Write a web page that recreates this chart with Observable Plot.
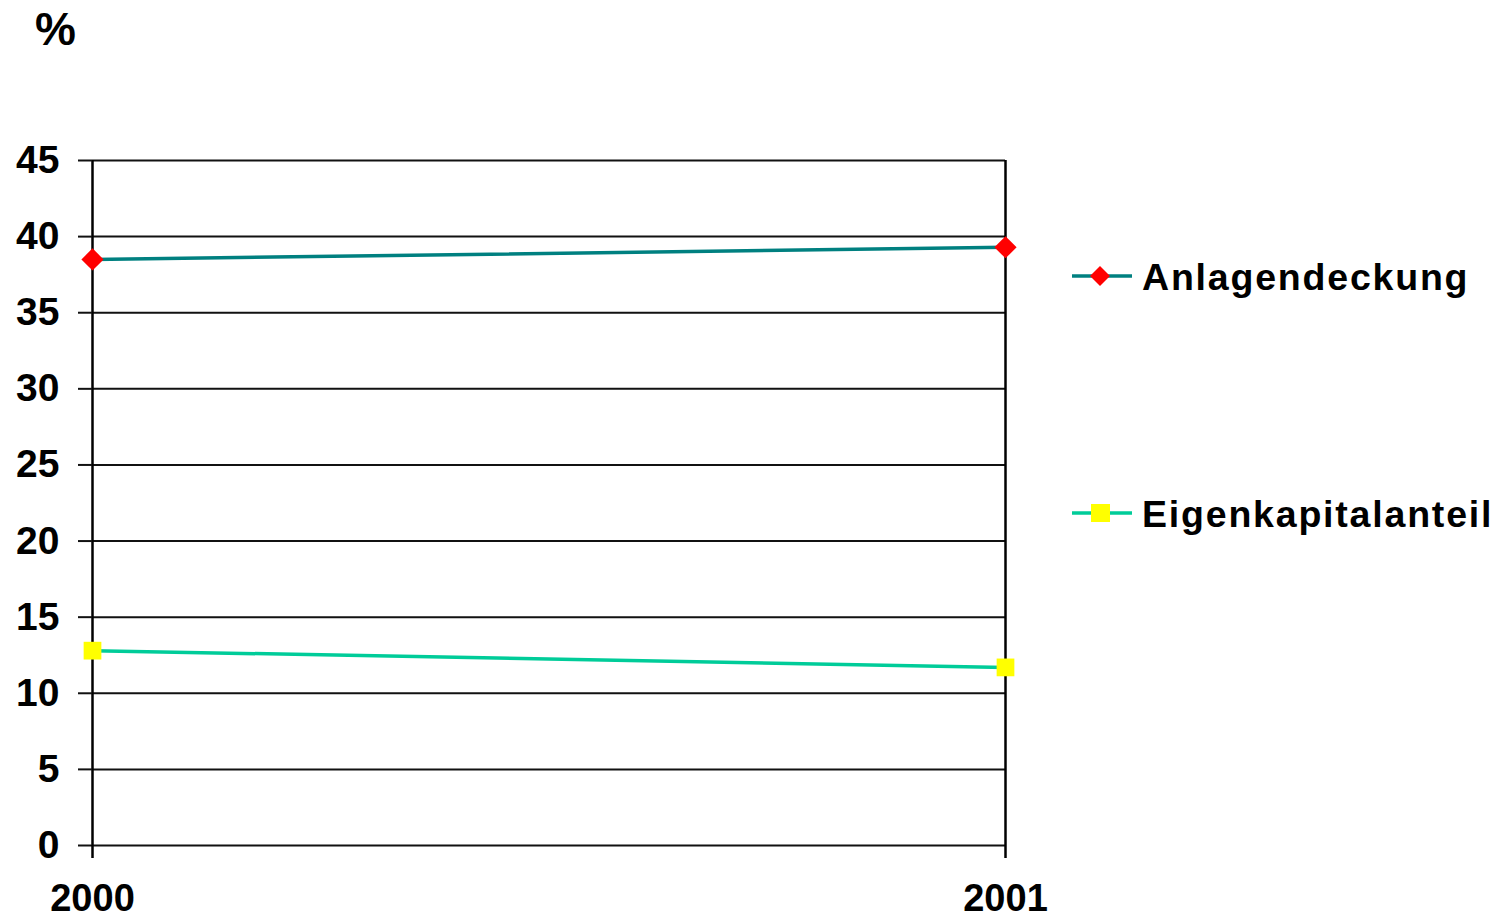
<!DOCTYPE html>
<html><head><meta charset="utf-8">
<script src="https://cdn.jsdelivr.net/npm/d3@7"></script>
<script src="https://cdn.jsdelivr.net/npm/@observablehq/plot@0.6"></script>
<style>
body{margin:0;background:#fff}
#wrap{position:relative;width:1503px;height:921px;font-family:"Liberation Sans",Arial,sans-serif;font-weight:bold}
#overlay{position:absolute;left:0;top:0;pointer-events:none}
</style></head><body>
<div id="wrap"><div id="chart"></div><svg id="overlay" width="1503" height="921"></svg></div>
<script>
const years = [2000, 2001];
const seriesNames = ["Anlagendeckung", "Eigenkapitalanteil"];
const anlagendeckung = [38.5, 39.3];
const eigenkapitalanteil = [12.8, 11.7];
const yTicks = [0, 5, 10, 15, 20, 25, 30, 35, 40, 45];
const unitLabel = "%";
const seriesColors = ["#008080", "#00CC99"];
const markerFills = ["#FF0000", "#FFFF00"];
const markerSymbols = ["diamond2", "square"];

const data = [];
years.forEach((y, i) => {
  data.push({year: y, series: seriesNames[0], value: anlagendeckung[i]});
  data.push({year: y, series: seriesNames[1], value: eigenkapitalanteil[i]});
});

const font = '"Liberation Sans", Arial, sans-serif';
const chart = Plot.plot({
  width: 1503, height: 921,
  marginLeft: 92, marginRight: 498, marginTop: 160, marginBottom: 76,
  style: {fontFamily: font, fontSize: "38px", fontWeight: "bold", color: "#000", background: "transparent", overflow: "visible"},
  x: {type: "linear", domain: [2000, 2001]},
  y: {domain: [0, 45]},
  color: {domain: seriesNames, range: seriesColors},
  symbol: {domain: seriesNames, range: markerSymbols},
  marks: [
    Plot.ruleY(yTicks, {y: d => d, x1: years[0], x2: years[1], stroke: "#111", strokeWidth: 2}),
    Plot.ruleX(years, {x: d => d, y1: 0, y2: 45, stroke: "#000", strokeWidth: 2.5}),
    Plot.axisY({ticks: yTicks, tickSize: 14, tickPadding: 19, strokeWidth: 2, stroke: "#111", fontWeight: "bold", fontSize: 39, fill: "#000", label: null, letterSpacing: 2}),
    Plot.axisX({ticks: years, tickFormat: d => String(d), tickSize: 13, tickPadding: 26, strokeWidth: 2.5, stroke: "#000", fontWeight: "bold", fontSize: 38, fill: "#000", label: null, letterSpacing: 2.5}),
    Plot.line(data, {x: "year", y: "value", stroke: "series", strokeWidth: 3.5}),
    Plot.dot(data, {x: "year", y: "value", symbol: "series", r: 10, stroke: null,
      fill: d => markerFills[seriesNames.indexOf(d.series)]})
  ]
});
document.getElementById("chart").appendChild(chart);

// overlay: unit label and legend
const ov = d3.select("#overlay");
ov.append("text").attr("x", 35).attr("y", 45).attr("font-family", font).attr("font-weight", "bold")
  .attr("font-size", 46).text(unitLabel);
const legendY = [276, 513];
seriesNames.forEach((name, i) => {
  const g = ov.append("g").attr("transform", `translate(0,${legendY[i]})`);
  g.append("line").attr("x1", 1072).attr("x2", 1132).attr("y1", 0).attr("y2", 0)
    .attr("stroke", seriesColors[i]).attr("stroke-width", 3.5);
  if (markerSymbols[i] === "diamond2") {
    g.append("path").attr("d", "M1100,-10L1110,0L1100,10L1090,0Z").attr("fill", markerFills[i]);
  } else {
    g.append("rect").attr("x", 1091).attr("y", -9).attr("width", 19).attr("height", 18).attr("fill", markerFills[i]);
  }
  g.append("text").attr("x", 1142).attr("y", 14).attr("font-family", font).attr("font-weight", "bold")
    .attr("font-size", 37.5).attr("letter-spacing", 1.8).text(name);
});
</script>
</body></html>
